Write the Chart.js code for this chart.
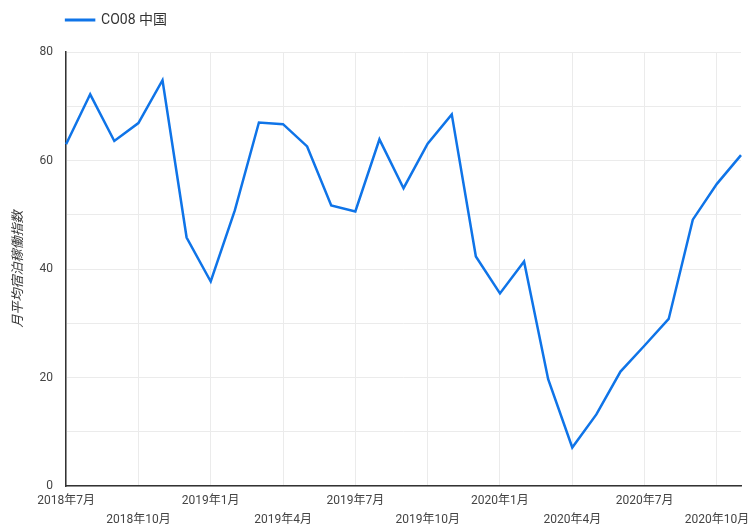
<!DOCTYPE html>
<html>
<head>
<meta charset="utf-8">
<script src="https://cdn.jsdelivr.net/npm/chart.js@4.4.1/dist/chart.umd.min.js"></script>
<style>
  html, body { margin: 0; padding: 0; background: #fff; }
  #wrap { width: 752px; height: 524px; }
</style>
</head>
<body>
<div id="wrap"><canvas id="chart"></canvas></div>
<script>
// monthly data, 2018-07 .. 2020-11
const months = [
  '2018年7月', '2018年8月', '2018年9月', '2018年10月', '2018年11月', '2018年12月',
  '2019年1月', '2019年2月', '2019年3月', '2019年4月', '2019年5月', '2019年6月',
  '2019年7月', '2019年8月', '2019年9月', '2019年10月', '2019年11月', '2019年12月',
  '2020年1月', '2020年2月', '2020年3月', '2020年4月', '2020年5月', '2020年6月',
  '2020年7月', '2020年8月', '2020年9月', '2020年10月', '2020年11月'
];
const co08China = [
  63.0, 72.2, 63.6, 66.9, 74.8, 45.8,
  37.7, 50.8, 67.0, 66.7, 62.6, 51.7,
  50.6, 63.9, 54.9, 63.1, 68.5, 42.3,
  35.5, 41.4, 19.7, 7.1, 13.2, 21.1,
  25.9, 30.8, 49.1, 55.7, 61.0
];
const seriesName = 'CO08 中国';
const yTitle = '月平均宿泊稼働指数';
const yTicks = [0, 20, 40, 60, 80];

const FONT = "Roboto, 'Noto Sans CJK JP', sans-serif";
Chart.defaults.font.family = FONT;
Chart.defaults.color = '#444';

const LEGEND_PAD = 10;

// legend: extra gap below it, and start it at the plot's left edge
const legendTweak = {
  id: 'legendTweak',
  beforeInit(chart) {
    const fit = chart.legend.fit;
    chart.legend.fit = function() {
      fit.call(this);
      this.height += 15;
    };
  },
  afterLayout(chart) {
    chart.legend.left = chart.chartArea.left - LEGEND_PAD;
  }
};

const isQuarter = i => i % 3 === 0;

new Chart(document.getElementById('chart').getContext('2d'), {
  type: 'line',
  data: {
    labels: months,
    datasets: [{
      label: seriesName,
      data: co08China,
      borderColor: '#0f74e8',
      backgroundColor: '#0f74e8',
      borderWidth: 2.5,
      pointRadius: 0,
      tension: 0,
      fill: false
    }]
  },
  options: {
    responsive: true,
    maintainAspectRatio: false,
    animation: false,
    layout: { padding: { top: 3, right: 11, left: 11, bottom: -11 } },
    scales: {
      x: {
        offset: false,
        border: { color: '#333', width: 1.5 },
        grid: {
          drawTicks: false,
          color: ctx => (isQuarter(ctx.index) ? '#ebebeb' : 'rgba(0,0,0,0)')
        },
        ticks: {
          autoSkip: false,
          maxRotation: 0,
          padding: 6,
          color: '#444',
          font: { size: 12, lineHeight: 1.54 },
          callback: function(value, index) {
            if (!isQuarter(index)) return '';
            const label = months[index];
            return (index / 3) % 2 === 0 ? [label] : ['', label];
          }
        }
      },
      y: {
        min: 0,
        max: 80,
        border: { color: '#333', width: 1.5 },
        grid: { drawTicks: false, color: '#ebebeb' },
        ticks: {
          stepSize: 10,
          padding: 13,
          color: '#444',
          font: { size: 12 },
          callback: v => (yTicks.includes(v) ? v : '')
        },
        title: {
          display: true,
          text: yTitle,
          color: '#333',
          font: { size: 13, style: 'italic' },
          padding: { top: 0, bottom: 0 }
        }
      }
    },
    plugins: {
      legend: {
        position: 'top',
        align: 'start',
        labels: {
          boxWidth: 28,
          boxHeight: 0.5,
          color: '#333',
          font: { size: 14 },
          padding: LEGEND_PAD
        }
      },
      tooltip: { enabled: false }
    }
  },
  plugins: [legendTweak]
});
</script>
</body>
</html>
